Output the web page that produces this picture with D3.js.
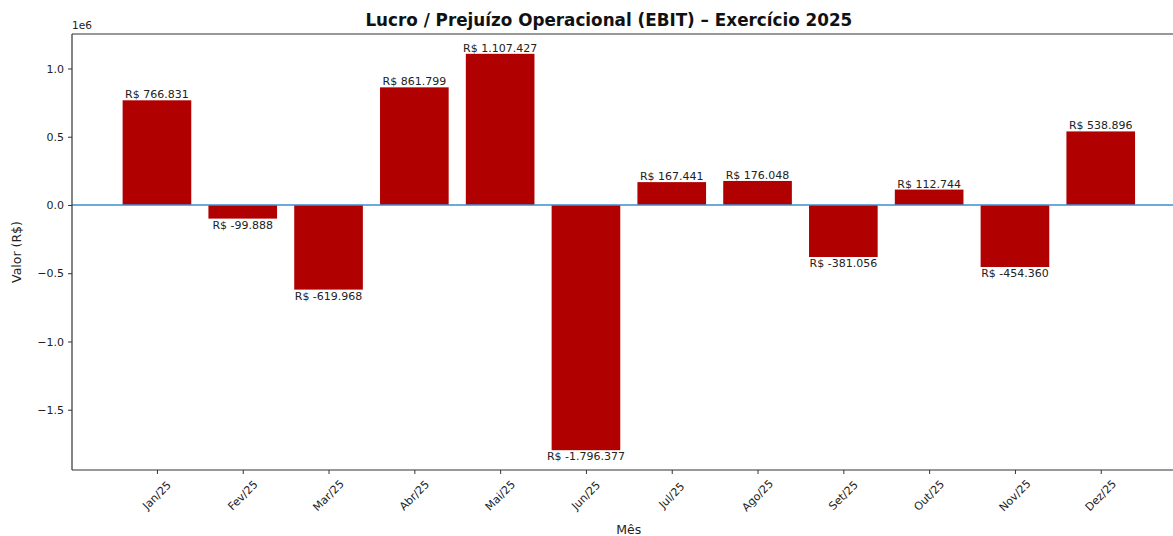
<!DOCTYPE html>
<html>
<head>
<meta charset="utf-8">
<script src="https://cdn.jsdelivr.net/npm/d3@7"></script>
<style>
  body { margin: 0; background: #fff; }
  svg { font-family: "DejaVu Sans", sans-serif; }
</style>
</head>
<body>
<svg width="1173" height="536"></svg>
<script>
var months = ["Jan/25", "Fev/25", "Mar/25", "Abr/25", "Mai/25", "Jun/25",
              "Jul/25", "Ago/25", "Set/25", "Out/25", "Nov/25", "Dez/25"];
var ebit = [766831, -99888, -619968, 861799, 1107427, -1796377,
            167441, 176048, -381056, 112744, -454360, 538896];
var yTicks = [1.0e6, 0.5e6, 0, -0.5e6, -1.0e6, -1.5e6];

var svg = d3.select("svg");
var plotLeft = 72, plotTop = 34, plotBottom = 470;
var barW = 0.8;

// matplotlib style limits: bars span [-0.4, n-0.6], 5% margins
var n = months.length;
var x0 = -barW / 2, x1 = n - 1 + barW / 2;
var xm = (x1 - x0) * 0.05;
var x = d3.scaleLinear().domain([x0 - xm, x1 + xm])
  .range([plotLeft, plotLeft + 85.8 * (x1 - x0 + 2 * xm)]);
var plotRight = x.range()[1];

var ymin = d3.min(ebit), ymax = d3.max(ebit);
var ym = (ymax - ymin) * 0.05;
var y = d3.scaleLinear().domain([ymin - ym, ymax + ym]).range([plotBottom, plotTop]);

function fmt(v) {
  var s = d3.format(",")(Math.abs(v)).replace(/,/g, ".");
  return "R$ " + (v < 0 ? "-" : "") + s;
}

// bars
svg.selectAll("rect.bar").data(ebit).enter().append("rect")
  .attr("class", "bar")
  .attr("x", function(d, i) { return x(i - barW / 2); })
  .attr("width", function() { return x(barW) - x(0); })
  .attr("y", function(d) { return y(Math.max(d, 0)); })
  .attr("height", function(d) { return Math.abs(y(d) - y(0)); })
  .attr("fill", "#b10000");

// zero line
svg.append("line")
  .attr("x1", plotLeft).attr("x2", plotRight)
  .attr("y1", y(0)).attr("y2", y(0))
  .attr("stroke", "#3a8fd0").attr("stroke-width", 1.5);

// value labels
svg.selectAll("text.val").data(ebit).enter().append("text")
  .attr("class", "val")
  .attr("x", function(d, i) { return x(i); })
  .attr("y", function(d) { return d >= 0 ? y(d) - 2 : y(d) + 10; })
  .attr("text-anchor", "middle")
  .attr("font-size", 11)
  .attr("fill", "#222")
  .text(function(d) { return fmt(d); });

// axes
var yAxis = d3.axisLeft(y).tickValues(yTicks).tickSize(4).tickPadding(4)
  .tickFormat(function(d) { return d3.format(".1f")(d / 1e6).replace("-", "\u2212"); });
var gy = svg.append("g").attr("transform", "translate(" + plotLeft + ",0)").call(yAxis);
gy.select(".domain").remove();
gy.selectAll("text").attr("font-size", 11).attr("fill", "#222").attr("font-family", "DejaVu Sans, sans-serif");
gy.selectAll("line").attr("stroke", "#333");

var xAxis = d3.axisBottom(x).tickValues(d3.range(n)).tickSize(4).tickPadding(3)
  .tickFormat(function(d) { return months[d]; });
var gx = svg.append("g").attr("transform", "translate(0," + plotBottom + ")").call(xAxis);
gx.select(".domain").remove();
gx.selectAll("line").attr("stroke", "#333");
gx.selectAll("text")
  .attr("font-size", 11).attr("fill", "#222").attr("font-family", "DejaVu Sans, sans-serif")
  .attr("text-anchor", "middle")
  .attr("dy", null)
  .attr("y", 0)
  .attr("transform", "translate(0,26) rotate(-45)")
  .attr("dominant-baseline", "middle");

// spines
svg.append("line").attr("x1", plotLeft).attr("x2", plotLeft).attr("y1", plotTop).attr("y2", plotBottom)
  .attr("stroke", "#333").attr("stroke-width", 1.2);
svg.append("line").attr("x1", plotLeft).attr("x2", plotRight).attr("y1", plotBottom).attr("y2", plotBottom)
  .attr("stroke", "#333").attr("stroke-width", 1.2);
svg.append("line").attr("x1", plotLeft).attr("x2", plotRight).attr("y1", plotTop).attr("y2", plotTop)
  .attr("stroke", "#333").attr("stroke-width", 1.2);

// offset text
svg.append("text").attr("x", plotLeft).attr("y", plotTop - 5)
  .attr("font-size", 10.5).attr("fill", "#222").text("1e6");

// title and labels
svg.append("text").attr("x", (plotLeft + plotRight) / 2 - 20).attr("y", 26)
  .attr("text-anchor", "middle").attr("font-size", 16.8).attr("font-weight", "bold")
  .attr("fill", "#111")
  .text("Lucro / Prejuízo Operacional (EBIT) – Exercício 2025");

svg.append("text").attr("transform", "translate(21," + (plotTop + plotBottom) / 2 + ") rotate(-90)")
  .attr("text-anchor", "middle").attr("font-size", 12.5).attr("fill", "#222")
  .text("Valor (R$)");

svg.append("text").attr("x", (plotLeft + plotRight) / 2).attr("y", 534)
  .attr("text-anchor", "middle").attr("font-size", 12.5).attr("fill", "#222")
  .text("Mês");
</script>
</body>
</html>
